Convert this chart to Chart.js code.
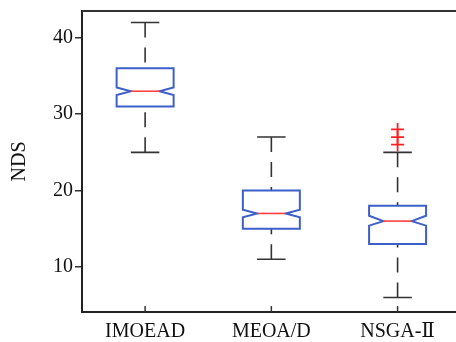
<!DOCTYPE html>
<html>
<head>
<meta charset="utf-8">
<script src="https://cdn.jsdelivr.net/npm/chart.js@4"></script>
<style>
  html, body { margin: 0; padding: 0; background: #fff; overflow: hidden; }
  #wrap { position: absolute; left: 0; top: 0; width: 469px; height: 342px; }
</style>
</head>
<body>
<div id="wrap"><canvas id="grafico"></canvas></div>
<script>
const categorias = ['IMOEAD', 'MEOA/D', 'NSGA-Ⅱ'];
const minimos = [25, 11, 6];
const q1 = [31, 15, 13];
const medianas = [33, 17, 16];
const q3 = [36, 20, 18];
const maximos = [42, 27, 25];
const muescaBaja = [32.5, 16.5, 15.4];
const muescaAlta = [33.5, 17.5, 16.7];
const atipicos = [
    { x: 'NSGA-Ⅱ', y: 28 },
    { x: 'NSGA-Ⅱ', y: 27 },
    { x: 'NSGA-Ⅱ', y: 26 }
];
const ticksY = [10, 20, 30, 40];

const fuente = { family: '"Liberation Serif", "DejaVu Serif", serif', size: 20 };

// dibuja cajas con muesca, bigotes y el marco de arriba/derecha
const cajas = {
    id: 'cajas',
    afterDatasetsDraw(chart) {
        const ctx = chart.ctx;
        const y = chart.scales.y;
        const area = chart.chartArea;
        const barras = chart.getDatasetMeta(0).data;

        ctx.save();
        // marco superior y derecho
        ctx.strokeStyle = '#333';
        ctx.lineWidth = 2;
        ctx.beginPath();
        ctx.moveTo(area.left, area.top);
        ctx.lineTo(area.right, area.top);
        ctx.lineTo(area.right, area.bottom);
        ctx.stroke();

        // marcas del eje x hacia dentro
        ctx.lineWidth = 1.5;
        barras.forEach(b => {
            ctx.beginPath();
            ctx.moveTo(b.x, area.bottom);
            ctx.lineTo(b.x, area.bottom - 6);
            ctx.stroke();
        });

        barras.forEach((b, i) => {
            const cx = b.x;
            const w = b.width;
            const izq = cx - w / 2, der = cx + w / 2;
            const yMin = y.getPixelForValue(minimos[i]);
            const yQ1 = y.getPixelForValue(q1[i]);
            const yMed = y.getPixelForValue(medianas[i]);
            const yQ3 = y.getPixelForValue(q3[i]);
            const yMax = y.getPixelForValue(maximos[i]);
            const yNa = y.getPixelForValue(muescaAlta[i]);
            const yNb = y.getPixelForValue(muescaBaja[i]);

            // bigotes discontinuos
            ctx.strokeStyle = '#333';
            ctx.lineWidth = 1.6;
            ctx.setLineDash([15, 10]);
            ctx.beginPath();
            ctx.moveTo(cx, yMax);
            ctx.lineTo(cx, yQ3);
            ctx.moveTo(cx, yMin);
            ctx.lineTo(cx, yQ1);
            ctx.stroke();
            ctx.setLineDash([]);

            // topes
            ctx.beginPath();
            ctx.moveTo(cx - w / 4, yMax);
            ctx.lineTo(cx + w / 4, yMax);
            ctx.moveTo(cx - w / 4, yMin);
            ctx.lineTo(cx + w / 4, yMin);
            ctx.stroke();

            // caja con muesca
            ctx.strokeStyle = '#3d5fc9';
            ctx.lineWidth = 2;
            ctx.beginPath();
            ctx.moveTo(izq, yQ3);
            ctx.lineTo(der, yQ3);
            ctx.lineTo(der, yNa);
            ctx.lineTo(cx + w / 4, yMed);
            ctx.lineTo(der, yNb);
            ctx.lineTo(der, yQ1);
            ctx.lineTo(izq, yQ1);
            ctx.lineTo(izq, yNb);
            ctx.lineTo(cx - w / 4, yMed);
            ctx.lineTo(izq, yNa);
            ctx.closePath();
            ctx.stroke();

            // mediana
            ctx.strokeStyle = '#ff4040';
            ctx.lineWidth = 1.6;
            ctx.beginPath();
            ctx.moveTo(cx - w / 4, yMed);
            ctx.lineTo(cx + w / 4, yMed);
            ctx.stroke();
        });
        ctx.restore();
    }
};

new Chart(document.getElementById('grafico'), {
    data: {
        labels: categorias,
        datasets: [{
            type: 'bar',
            data: categorias.map((c, i) => [q1[i], q3[i]]),
            backgroundColor: 'rgba(0,0,0,0)',
            borderWidth: 0,
            barThickness: 57
        }, {
            type: 'line',
            data: atipicos,
            showLine: false,
            pointStyle: 'cross',
            pointRadius: 6.5,
            pointBorderColor: '#ff2020',
            pointBorderWidth: 1.8
        }]
    },
    options: {
        responsive: true,
        maintainAspectRatio: false,
        animation: false,
        layout: { padding: { top: 11, right: 1, left: 0, bottom: 0 } },
        plugins: { legend: { display: false }, tooltip: { enabled: false } },
        scales: {
            x: {
                grid: { display: false, drawTicks: false },
                border: { display: true, color: '#222', width: 2 },
                ticks: { font: fuente, color: '#111', padding: 8 },
                afterFit: s => { s.height = 30; s.paddingLeft = 0; s.paddingRight = 0; }
            },
            y: {
                min: 4.1,
                max: 43.5,
                afterBuildTicks: s => { s.ticks = ticksY.map(v => ({ value: v })); },
                grid: { drawOnChartArea: false, drawTicks: true, tickLength: 7, color: '#333', lineWidth: 1.5 },
                border: { display: true, color: '#222', width: 2 },
                ticks: { font: fuente, color: '#111', padding: 2 },
                title: { display: true, text: 'NDS', font: fuente, color: '#111', padding: { top: 8, bottom: 0 } },
                afterFit: s => { s.width = 82; s.paddingTop = 0; s.paddingBottom = 0; }
            }
        }
    },
    plugins: [cajas]
});
</script>
</body>
</html>
